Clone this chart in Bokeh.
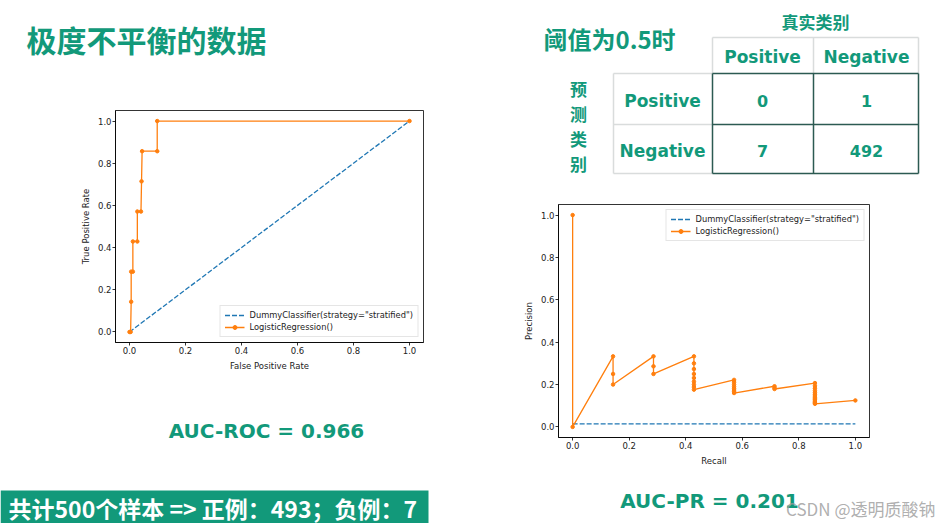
from bokeh.plotting import figure
from bokeh.layouts import row, column
from bokeh.models import Range1d, FixedTicker, NumeralTickFormatter, Legend, LegendItem
from bokeh.core.properties import value
from bokeh.embed import file_html
from bokeh.resources import INLINE

# ---------------- data ----------------
title_text = "极度不平衡的数据"
threshold_text = "阈值为0.5时"
true_class_text = "真实类别"
pred_class_chars = ["预", "测", "类", "别"]
cm_labels = ["Positive", "Negative"]
cm_values = [["0", "1"], ["7", "492"]]
auc_roc_text = "AUC-ROC = 0.966"
auc_pr_text = "AUC-PR = 0.201"
summary_text = "共计500个样本 => 正例：493；负例：7"
watermark_text = "CSDN @透明质酸钠"

dummy_label = 'DummyClassifier(strategy="stratified")'
lr_label = "LogisticRegression()"

roc_dummy_fpr = [0.0, 1.0]
roc_dummy_tpr = [0.0, 1.0]
roc_fpr = [0.0, 0.004, 0.006, 0.006, 0.012, 0.012, 0.028, 0.028, 0.041, 0.043, 0.045, 0.099, 0.099, 1.0]
roc_tpr = [0.0, 0.0, 0.143, 0.286, 0.286, 0.429, 0.429, 0.571, 0.571, 0.714, 0.857, 0.857, 1.0, 1.0]

pr_dummy_recall = [0.0, 1.0]
pr_dummy_precision = [0.014, 0.014]
pr_recall = [0.0, 0.0,
             0.143, 0.143, 0.143,
             0.286, 0.286, 0.286,
             0.429, 0.429, 0.429, 0.429, 0.429, 0.429, 0.429, 0.429, 0.429,
             0.571, 0.571, 0.571, 0.571, 0.571, 0.571, 0.571, 0.571,
             0.714, 0.714, 0.714,
             0.857, 0.857, 0.857, 0.857, 0.857, 0.857, 0.857, 0.857, 0.857, 0.857, 0.857, 0.857, 0.857, 0.857,
             1.0]
pr_precision = [1.0, 0.0,
                0.333, 0.25, 0.2,
                0.333, 0.286, 0.25,
                0.333, 0.3, 0.273, 0.25, 0.231, 0.214, 0.2, 0.188, 0.176,
                0.222, 0.211, 0.2, 0.19, 0.182, 0.174, 0.167, 0.16,
                0.192, 0.185, 0.179,
                0.207, 0.194, 0.182, 0.171, 0.162, 0.154, 0.146, 0.14, 0.133, 0.128, 0.122, 0.117, 0.113, 0.109,
                0.125]

axis_ticks = [0.0, 0.2, 0.4, 0.6, 0.8, 1.0]

# ---------------- styles ----------------
TEAL = "#12997a"
BLUE = "#1f77b4"
ORANGE = "#ff7f0e"
CJK = value("Noto Sans CJK SC")
LATIN = value("DejaVu Sans")


def canvas(w, h):
    p = figure(width=w, height=h, x_range=Range1d(0, w), y_range=Range1d(h, 0),
               output_backend="svg", toolbar_location=None, min_border=0,
               x_axis_location=None, y_axis_location=None)
    p.frame_align = False
    p.grid.visible = False
    p.outline_line_color = None
    p.background_fill_color = "white"
    p.border_fill_color = "white"
    return p


def curve_fig(w, h, left, right, top, bottom, xlabel, ylabel):
    p = figure(width=w, height=h, x_range=Range1d(-0.05, 1.05), y_range=Range1d(-0.05, 1.05),
               output_backend="svg", toolbar_location=None,
               min_border_left=left, min_border_right=right,
               min_border_top=top, min_border_bottom=bottom)
    p.frame_align = False
    p.grid.visible = False
    p.outline_line_color = "black"
    p.outline_line_width = 0.8
    p.background_fill_color = "white"
    p.border_fill_color = "white"
    for ax in (p.xaxis[0], p.yaxis[0]):
        ax.ticker = FixedTicker(ticks=axis_ticks)
        ax.formatter = NumeralTickFormatter(format="0.0")
        ax.major_label_text_font = "DejaVu Sans"
        ax.major_label_text_font_size = "8.5px"
        ax.major_label_text_color = "#222222"
        ax.minor_tick_line_color = None
        ax.major_tick_in = 0
        ax.major_tick_out = 3
        ax.major_tick_line_width = 0.8
        ax.axis_line_width = 0.8
        ax.major_label_standoff = 1
        ax.axis_label_text_font = "DejaVu Sans"
        ax.axis_label_text_font_size = "8.5px"
        ax.axis_label_text_font_style = "normal"
        ax.axis_label_text_color = "#222222"
        ax.axis_label_standoff = 4
    p.xaxis.axis_label = xlabel
    p.yaxis.axis_label = ylabel
    return p


def add_curves(p, dx, dy, lx, ly, loc):
    d = p.line(dx, dy, line_color=BLUE, line_width=1.3, line_dash="5 2")
    l = p.line(lx, ly, line_color=ORANGE, line_width=1.3)
    s = p.scatter(lx, ly, size=3.5, fill_color=ORANGE, line_color=ORANGE)
    leg = Legend(items=[LegendItem(label=dummy_label, renderers=[d]),
                        LegendItem(label=lr_label, renderers=[l, s])],
                 location=loc)
    leg.label_text_font = "DejaVu Sans"
    leg.label_text_font_size = "8.3px"
    leg.label_text_color = "#222222"
    leg.label_height = 10
    leg.glyph_height = 10
    leg.glyph_width = 20
    leg.label_standoff = 5
    leg.spacing = 2
    leg.padding = 4
    leg.margin = 5
    leg.border_line_color = "#cccccc"
    leg.border_line_width = 0.8
    leg.background_fill_alpha = 0.85
    p.add_layout(leg)


# ---------------- left column ----------------
p_title = canvas(470, 100)
p_title.text(x=[26], y=[38], text=[title_text], text_font=CJK, text_font_size="30px",
             text_font_style="bold", text_color=TEAL, text_align="left", text_baseline="middle")

p_roc = curve_fig(470, 280, 115, 47, 10, 38, "False Positive Rate", "True Positive Rate")
add_curves(p_roc, roc_dummy_fpr, roc_dummy_tpr, roc_fpr, roc_tpr, "bottom_right")

p_lb = canvas(470, 143)
p_lb.text(x=[266], y=[50], text=[auc_roc_text], text_font=LATIN, text_font_size="20px",
          text_font_style="bold", text_color=TEAL, text_align="center", text_baseline="middle")
p_lb.quad(left=[0], right=[428], top=[110], bottom=[143], fill_color=TEAL, line_color=None)
p_lb.text(x=[8], y=[127], text=[summary_text], text_font=CJK, text_font_size="23px",
          text_font_style="bold", text_color="white", text_align="left", text_baseline="middle")

left_col = column(p_title, p_roc, p_lb, spacing=0)

# ---------------- right column ----------------
p_tab = canvas(467, 195)
p_tab.text(x=[73], y=[38], text=[threshold_text], text_font=CJK, text_font_size="24px",
           text_font_style="bold", text_color=TEAL, text_align="left", text_baseline="middle")
p_tab.text(x=[345], y=[21], text=[true_class_text], text_font=CJK, text_font_size="17px",
           text_font_style="bold", text_color=TEAL, text_align="center", text_baseline="middle")
p_tab.text(x=[108] * 4, y=[88, 113, 138, 163], text=pred_class_chars, text_font=CJK,
           text_font_size="17px", text_font_style="bold", text_color=TEAL,
           text_align="center", text_baseline="middle")

# table borders: light header cells, dark data block
LIGHT = "#d9dcdc"
DARK = "#2c5a52"
p_tab.segment(x0=[242, 242, 448, 343], y0=[37, 37, 37, 37], x1=[448, 242, 448, 343], y1=[37, 73, 73, 73],
              line_color=LIGHT, line_width=1.5)
p_tab.segment(x0=[143, 143, 143, 143], y0=[73, 124, 173, 73], x1=[242, 242, 242, 143], y1=[73, 124, 173, 173],
              line_color=LIGHT, line_width=1.5)
p_tab.segment(x0=[242, 242, 242, 242, 343, 448], y0=[73, 124, 173, 73, 73, 73],
              x1=[448, 448, 448, 242, 343, 448], y1=[73, 124, 173, 173, 173, 173],
              line_color=DARK, line_width=1.5)

col_x = [292, 396]
row_y = [100, 150]
p_tab.text(x=col_x, y=[56, 56], text=cm_labels, text_font=LATIN, text_font_size="17px",
           text_font_style="bold", text_color=TEAL, text_align="center", text_baseline="middle")
p_tab.text(x=[192, 192], y=row_y, text=cm_labels, text_font=LATIN, text_font_size="17px",
           text_font_style="bold", text_color=TEAL, text_align="center", text_baseline="middle")
vx, vy, vt = [], [], []
for i in range(2):
    for j in range(2):
        vx.append(col_x[j])
        vy.append(row_y[i])
        vt.append(cm_values[i][j])
p_tab.text(x=vx, y=vy, text=vt, text_font=LATIN, text_font_size="16px",
           text_font_style="bold", text_color=TEAL, text_align="center", text_baseline="middle")

p_pr = curve_fig(467, 280, 88, 68, 9, 38, "Recall", "Precision")
add_curves(p_pr, pr_dummy_recall, pr_dummy_precision, pr_recall, pr_precision, "top_right")

p_rb = canvas(467, 48)
p_rb.text(x=[239], y=[25], text=[auc_pr_text], text_font=LATIN, text_font_size="20px",
          text_font_style="bold", text_color=TEAL, text_align="center", text_baseline="middle")
p_rb.text(x=[465], y=[33], text=[watermark_text], text_font=CJK, text_font_size="17px",
          text_color="#9a9a9a", text_alpha=0.8, text_align="right", text_baseline="middle")

right_col = column(p_tab, p_pr, p_rb, spacing=0)

page = row(left_col, right_col, spacing=0)

open("out.html", "w").write(file_html(page, INLINE))
